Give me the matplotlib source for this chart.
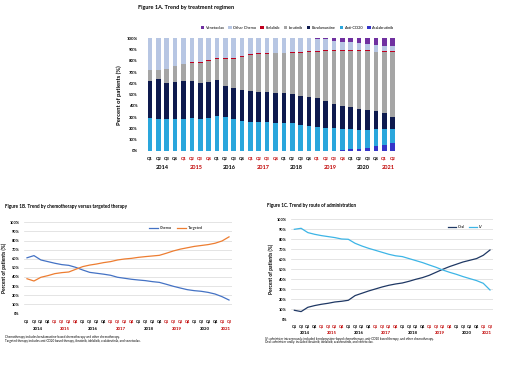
import matplotlib
matplotlib.use("Agg")
import matplotlib.pyplot as plt
import matplotlib.transforms as mtransforms
from matplotlib.patches import Patch
from matplotlib.lines import Line2D

plt.rcParams['font.family'] = ['Lato', 'DejaVu Sans']

# ---------------- data ----------------
years = ["2014", "2015", "2016", "2017", "2018", "2019", "2020", "2021"]
quarters = ["Q1", "Q2", "Q3", "Q4"] * 7 + ["Q1", "Q2"]

# Figure 1A – stacked shares (%), bottom to top
acalabrutinib = [0]*23 + [1, 1.5, 2, 3, 4, 5.5, 7]
anti_cd20 = [29, 28, 28, 28, 28, 29, 28, 29.5, 31, 30, 28, 27, 26, 26, 25.5,
             25, 24.6, 24.6, 23.4, 22.5, 21.3, 20.4, 20, 18.5, 17.7, 16.6, 15.6, 15.2, 14, 12.5]
bendamustine = [33, 35.6, 32, 33, 34, 33, 32, 31.5, 32, 28, 28, 27, 27.5, 26, 26.5,
                26.8, 26.6, 26, 25.6, 25.1, 25.4, 24, 21.7, 20.1, 19.6, 18.7, 17.8, 16, 14.5, 10.5]
ibrutinib = [10, 8.4, 13, 14, 15.5, 16.4, 18.5, 19, 18.3, 23.7, 26, 29.7, 31.5, 33.8, 34,
             34.9, 35.5, 36.7, 38.3, 40.3, 41.5, 44.4, 47, 49.4, 50.2, 51.7, 52.6, 52.3, 54, 58]
idelalisib = [0, 0, 0, 0, 0, 0.8, 0.8, 0.8, 0.8, 0.8, 0.8, 0.8, 0.8, 0.8, 0.8,
              0.6, 0.6, 0.6, 0.6, 0.6, 0.6, 0.6, 0.6, 0.5, 0.5, 0.5, 0.5, 0.5, 0.5, 0.5]
other_chemo = [28, 28, 27, 25, 22.5, 20.8, 20.7, 19.2, 17.9, 17.5, 17.2, 15.5, 14.2, 13.4, 13.2,
               12.7, 12.7, 12.1, 12.1, 11.5, 10.7, 9.6, 8.7, 7.5, 7, 6.5, 5.5, 6, 5, 4.5]
venetoclax = [0]*20 + [0.5, 1, 2, 3, 3.5, 4, 5, 6, 6.5, 7]

# Figure 1B
chemo = [61, 63.4, 58.6, 56.8, 55, 53.5, 52.7, 50.5, 47.6, 45, 44, 43, 41.8, 39.6, 38.5,
         37.4, 36.6, 35.9, 34.8, 34, 31.9, 29.7, 27.8, 26, 24.9, 24.2, 23, 21.2, 18.3, 14.6]
targeted = [38, 35.5, 39.6, 41.4, 43.6, 44.7, 45.4, 48.4, 51.3, 53, 54.2, 55.7, 56.8, 58.6, 59.7,
            60.4, 61.5, 62.3, 63, 63.7, 66, 68.5, 70.5, 72, 73.5, 74.5, 75.5, 77, 79.5, 84]

# Figure 1C
oral = [9, 7.7, 12, 13.7, 15, 16, 17.3, 18, 19, 23.7, 26, 28.3, 30.3, 32.3, 34,
        35.3, 36.3, 38, 40, 41.7, 44, 47, 50, 52.7, 55, 57.3, 59, 60.7, 64, 69.3]
iv = [90, 91, 86.7, 85, 83.7, 82.7, 81.7, 80.3, 80, 76, 73.3, 71, 69, 67, 65,
      63.5, 62.7, 60.7, 58.7, 56.7, 54.3, 52, 49.3, 47, 45, 42.7, 40.7, 38.7, 36, 29.3]

RED = "#C00000"
year_colors = ["black", RED] * 4
q_colors = []
for i in range(len(quarters)):
    q_colors.append(year_colors[i // 4])
x = list(range(len(quarters)))


def style_xaxis(ax, qy, yy, qsize, ysize):
    ax.set_xticks([])
    tr = mtransforms.blended_transform_factory(ax.transData, ax.transAxes)
    for i, q in enumerate(quarters):
        ax.text(i, qy, q, transform=tr, ha="center", va="center",
                fontsize=qsize, color=q_colors[i], fontweight="bold")
    for k, yr in enumerate(years):
        idx = [i for i in x if i // 4 == k]
        c = sum(idx) / len(idx)
        ax.text(c, yy, yr, transform=tr, ha="center", va="center",
                fontsize=ysize, color=year_colors[k], fontweight="bold")


fig = plt.figure(figsize=(5.2, 3.71), dpi=100)

# ---------------- Figure 1A ----------------
ax1 = fig.add_axes([0.2805, 0.593, 0.4825, 0.3038])
series = [
    ("Acalabrutinib", acalabrutinib, "#3535C8"),
    ("Anti-CD20", anti_cd20, "#2AA6DC"),
    ("Bendamustine", bendamustine, "#0E1A4E"),
    ("Ibrutinib", ibrutinib, "#A5A5A5"),
    ("Idelalisib", idelalisib, "#C0001E"),
    ("Other Chemo", other_chemo, "#B7C6E3"),
    ("Venetoclax", venetoclax, "#7030A0"),
]
bottom = [0.0] * len(x)
handles = []
for name, vals, col in series:
    ax1.bar(x, vals, bottom=bottom, width=0.55, color=col, edgecolor="none")
    bottom = [b + v for b, v in zip(bottom, vals)]
    handles.append(Patch(facecolor=col, edgecolor="none", label=name))
ax1.set_xlim(-0.5, 29.5)
ax1.set_ylim(0, 100)
ax1.set_yticks(range(0, 101, 10))
ax1.set_yticklabels([f"{v}%" for v in range(0, 101, 10)], fontsize=3.2, fontweight="bold")
ax1.tick_params(axis="y", length=0, pad=6)
for s in ax1.spines.values():
    s.set_visible(False)
ax1.set_ylabel("Percent of patients (%)", fontsize=4.2, fontweight="bold", labelpad=3)
style_xaxis(ax1, -0.068, -0.147, 3.1, 4.0)
fig.text(0.2655, 0.981, "Figure 1A. Trend by treatment regimen", fontsize=4.0,
         fontweight="bold", ha="left", va="center")
leg = fig.legend(handles=handles[::-1], loc="center", bbox_to_anchor=(0.572, 0.925),
                 ncol=7, fontsize=2.8, frameon=False, handlelength=0.9, handleheight=0.9,
                 handletextpad=0.4, columnspacing=1.0)

# ---------------- Figure 1B ----------------
ax2 = fig.add_axes([0.0452, 0.1555, 0.4019, 0.2453])
ax2.plot(x, chemo, color="#4472C4", lw=0.9, label="Chemo")
ax2.plot(x, targeted, color="#ED7D31", lw=0.9, label="Targeted")
ax2.set_xlim(-0.5, 29.5)
ax2.set_ylim(0, 100)
ax2.set_yticks(range(0, 101, 10))
ax2.set_yticklabels([f"{v}%" for v in range(0, 101, 10)], fontsize=2.8, fontweight="bold")
ax2.tick_params(axis="y", length=0, pad=3)
ax2.grid(axis="y", color="#D9D9D9", lw=0.5)
ax2.set_axisbelow(True)
for s in ax2.spines.values():
    s.set_visible(False)
ax2.set_ylabel("Percent of patients (%)", fontsize=3.6, fontweight="bold", labelpad=2)
style_xaxis(ax2, -0.095, -0.17, 2.7, 3.2)
ax2.legend(loc="center", bbox_to_anchor=(0.73, 0.935), ncol=2, fontsize=2.8, frameon=False,
           handlelength=2.2, handletextpad=0.4, columnspacing=1.5)
fig.text(0.01, 0.443, "Figure 1B. Trend by chemotherapy versus targeted therapy", fontsize=3.3,
         fontweight="bold", ha="left", va="center")
fig.text(0.01, 0.0915, "Chemotherapy includes bendamustine-based chemotherapy and other chemotherapy.",
         fontsize=2.2, ha="left", va="center")
fig.text(0.01, 0.080, "Targeted therapy includes anti-CD20 based therapy, ibrutinib, idelalisib, acalabrutinib, and venetoclax.",
         fontsize=2.2, ha="left", va="center")

# ---------------- Figure 1C ----------------
ax3 = fig.add_axes([0.5596, 0.1394, 0.3892, 0.2695])
ax3.plot(x, oral, color="#1F3864", lw=0.9, label="Oral")
ax3.plot(x, iv, color="#3DB5E6", lw=0.9, label="IV")
ax3.set_xlim(-0.5, 29.5)
ax3.set_ylim(0, 100)
ax3.set_yticks(range(0, 101, 10))
ax3.set_yticklabels([f"{v}%" for v in range(0, 101, 10)], fontsize=2.8, fontweight="bold")
ax3.tick_params(axis="y", length=0, pad=3)
ax3.grid(axis="y", color="#D9D9D9", lw=0.5)
ax3.set_axisbelow(True)
for s in ax3.spines.values():
    s.set_visible(False)
ax3.set_ylabel("Percent of patients (%)", fontsize=3.6, fontweight="bold", labelpad=2)
style_xaxis(ax3, -0.068, -0.134, 2.7, 3.2)
ax3.legend(loc="center", bbox_to_anchor=(0.86, 0.92), ncol=2, fontsize=2.8, frameon=False,
           handlelength=2.2, handletextpad=0.4, columnspacing=1.0)
fig.text(0.5135, 0.445, "Figure 1C. Trend by route of administration", fontsize=3.3,
         fontweight="bold", ha="left", va="center")
fig.text(0.51, 0.087, "IV: administer intravenously: included bendamustine-based chemotherapy, anti-CD20 based therapy, and other chemotherapy.",
         fontsize=2.2, ha="left", va="center")
fig.text(0.51, 0.077, "Oral: administer orally: included ibrutinib, idelalisib, acalabrutinib, and venetoclax.",
         fontsize=2.2, ha="left", va="center")

fig.savefig("out.png", dpi=100)
